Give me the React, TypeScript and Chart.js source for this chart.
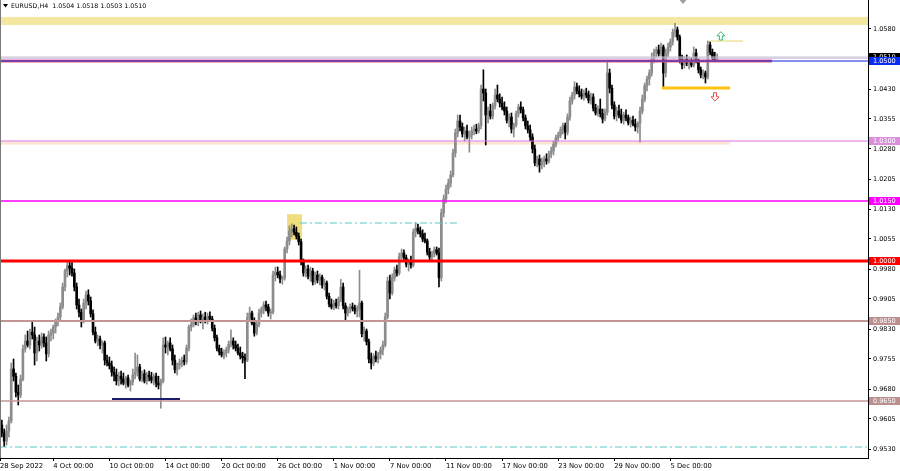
import React, { useEffect, useRef } from "react";
import { Chart, registerables } from "chart.js";

Chart.register(...registerables);

// ---------- DATA (EURUSD H4, 28 Sep 2022 08:00 -> 8 Dec 2022) ----------
// bar index of first candle (index 0 = 28 Sep 00:00, 6 bars a day)
const firstBar = 2;

const opens = [
  0.9590, 0.9570, 0.9550, 0.9575,
  0.9600, 0.9730, 0.9712, 0.9672, 0.9665, 0.9705,
  0.9780, 0.9800, 0.9790, 0.9822, 0.9815, 0.9770,
  0.9800, 0.9790, 0.9810, 0.9795, 0.9768, 0.9815,
  0.9820, 0.9835, 0.9848, 0.9860, 0.9885, 0.9935,
  0.9975, 0.9988, 0.9982, 0.9970, 0.9935, 0.9890,
  0.9872, 0.9850, 0.9895, 0.9915, 0.9900, 0.9868,
  0.9822, 0.9800, 0.9805, 0.9790, 0.9795, 0.9752,
  0.9745, 0.9738, 0.9722, 0.9715, 0.9700, 0.9712,
  0.9705, 0.9695, 0.9708, 0.9690, 0.9698, 0.9715,
  0.9722, 0.9735, 0.9705, 0.9718, 0.9700, 0.9715,
  0.9710, 0.9702, 0.9712, 0.9695, 0.9690, 0.9700,
  0.9790, 0.9785, 0.9795, 0.9780, 0.9752, 0.9728,
  0.9740, 0.9745, 0.9752, 0.9748, 0.9782, 0.9835,
  0.9842, 0.9858, 0.9848, 0.9865, 0.9852, 0.9860,
  0.9850, 0.9862, 0.9855, 0.9832, 0.9808, 0.9782,
  0.9772, 0.9765, 0.9770, 0.9778, 0.9792, 0.9800,
  0.9790, 0.9782, 0.9770, 0.9762, 0.9758, 0.9752,
  0.9858, 0.9870, 0.9845, 0.9820, 0.9842, 0.9870,
  0.9878, 0.9890, 0.9885, 0.9870, 0.9872, 0.9965,
  0.9972, 0.9965, 0.9955, 0.9958, 1.0030, 1.0050,
  1.0075, 1.0080, 1.0072, 1.0062, 1.0048, 0.9998,
  0.9970, 0.9980, 0.9962, 0.9975, 0.9948, 0.9965,
  0.9952, 0.9960, 0.9940, 0.9945, 0.9912, 0.9892,
  0.9885, 0.9895, 0.9888, 0.9905, 0.9935, 0.9888,
  0.9870, 0.9880, 0.9885, 0.9882, 0.9875, 0.9880,
  0.9895, 0.9818, 0.9825, 0.9798, 0.9755, 0.9745,
  0.9762, 0.9755, 0.9768, 0.9778, 0.9790, 0.9860,
  0.9950, 0.9920, 0.9958, 0.9978, 0.9970, 1.0012,
  1.0020, 1.0008, 0.9992, 1.0000, 0.9990, 1.0072,
  1.0082, 1.0075, 1.0068, 1.0055, 1.0050, 1.0022,
  1.0010, 1.0018, 1.0028, 1.0020, 0.9958, 1.0120,
  1.0155, 1.0180, 1.0195, 1.0215, 1.0270, 1.0320,
  1.0350, 1.0335, 1.0318, 1.0325, 1.0310, 1.0315,
  1.0325, 1.0330, 1.0325, 1.0338, 1.0430, 1.0420,
  1.0365, 1.0375, 1.0362, 1.0388, 1.0415, 1.0405,
  1.0395, 1.0385, 1.0375, 1.0352, 1.0360, 1.0330,
  1.0340, 1.0368, 1.0385, 1.0378, 1.0358, 1.0338,
  1.0328, 1.0310, 1.0280, 1.0245, 1.0255, 1.0240,
  1.0248, 1.0255, 1.0250, 1.0268, 1.0275, 1.0292,
  1.0308, 1.0315, 1.0328, 1.0338, 1.0322, 1.0360,
  1.0400, 1.0415, 1.0435, 1.0425, 1.0418, 1.0412,
  1.0420, 1.0415, 1.0402, 1.0410, 1.0382, 1.0370,
  1.0380, 1.0368, 1.0355, 1.0372, 1.0470, 1.0432,
  1.0390, 1.0362, 1.0375, 1.0365, 1.0352, 1.0365,
  1.0358, 1.0345, 1.0352, 1.0342, 1.0335, 1.0345,
  1.0375, 1.0405, 1.0438, 1.0455, 1.0470, 1.0505,
  1.0522, 1.0528, 1.0518, 1.0535, 1.0470, 1.0520,
  1.0535, 1.0548, 1.0572, 1.0578, 1.0560, 1.0505,
  1.0490, 1.0505, 1.0495, 1.0500, 1.0490, 1.0520,
  1.0502, 1.0478, 1.0465, 1.0470, 1.0460, 1.0540,
  1.0522, 1.0508, 1.0504,
];

const highs = [
  0.9602, 0.9580, 0.9590, 0.9610,
  0.9745, 0.9755, 0.9720, 0.9690, 0.9715, 0.9790,
  0.9815, 0.9825, 0.9830, 0.9848, 0.9835, 0.9810,
  0.9815, 0.9820, 0.9818, 0.9810, 0.9825, 0.9830,
  0.9840, 0.9855, 0.9870, 0.9895, 0.9945, 0.9980,
  0.9999, 0.9998, 0.9996, 0.9980, 0.9945, 0.9905,
  0.9880, 0.9905, 0.9925, 0.9928, 0.9910, 0.9878,
  0.9835, 0.9815, 0.9812, 0.9800, 0.9800, 0.9765,
  0.9760, 0.9750, 0.9735, 0.9730, 0.9722, 0.9725,
  0.9720, 0.9712, 0.9715, 0.9702, 0.9730, 0.9770,
  0.9765, 0.9742, 0.9725, 0.9728, 0.9722, 0.9725,
  0.9722, 0.9718, 0.9720, 0.9712, 0.9705, 0.9808,
  0.9810, 0.9800, 0.9808, 0.9790, 0.9765, 0.9745,
  0.9755, 0.9760, 0.9765, 0.9790, 0.9840, 0.9855,
  0.9865, 0.9870, 0.9872, 0.9875, 0.9868, 0.9872,
  0.9870, 0.9873, 0.9862, 0.9840, 0.9815, 0.9790,
  0.9782, 0.9778, 0.9785, 0.9800, 0.9828, 0.9808,
  0.9800, 0.9792, 0.9785, 0.9772, 0.9768, 0.9870,
  0.9885, 0.9875, 0.9858, 0.9850, 0.9880, 0.9885,
  0.9898, 0.9900, 0.9892, 0.9880, 0.9975, 0.9985,
  0.9985, 0.9975, 0.9962, 1.0035, 1.0060, 1.0088,
  1.0093, 1.0090, 1.0085, 1.0070, 1.0055, 1.0005,
  0.9988, 0.9990, 0.9985, 0.9982, 0.9972, 0.9975,
  0.9968, 0.9965, 0.9955, 0.9950, 0.9920, 0.9905,
  0.9902, 0.9905, 0.9910, 0.9954, 0.9945, 0.9895,
  0.9885, 0.9892, 0.9895, 0.9890, 0.9888, 0.9977,
  0.9900, 0.9835, 0.9830, 0.9805, 0.9770, 0.9768,
  0.9775, 0.9772, 0.9785, 0.9800, 0.9870, 0.9960,
  0.9965, 0.9968, 0.9985, 0.9990, 1.0020, 1.0030,
  1.0028, 1.0015, 1.0005, 1.0012, 1.0080, 1.0096,
  1.0092, 1.0085, 1.0078, 1.0070, 1.0055, 1.0032,
  1.0025, 1.0035, 1.0035, 1.0032, 1.0130, 1.0165,
  1.0190, 1.0205, 1.0225, 1.0280, 1.0330, 1.0365,
  1.0365, 1.0345, 1.0335, 1.0340, 1.0325, 1.0335,
  1.0340, 1.0342, 1.0345, 1.0440, 1.0478, 1.0430,
  1.0385, 1.0392, 1.0395, 1.0430, 1.0440, 1.0418,
  1.0410, 1.0398, 1.0385, 1.0368, 1.0370, 1.0345,
  1.0375, 1.0392, 1.0398, 1.0385, 1.0365, 1.0350,
  1.0340, 1.0318, 1.0290, 1.0262, 1.0265, 1.0258,
  1.0262, 1.0268, 1.0275, 1.0285, 1.0300, 1.0315,
  1.0322, 1.0335, 1.0345, 1.0345, 1.0368, 1.0410,
  1.0422, 1.0448, 1.0445, 1.0438, 1.0430, 1.0428,
  1.0432, 1.0425, 1.0420, 1.0418, 1.0392, 1.0388,
  1.0405, 1.0380, 1.0380, 1.0497, 1.0480, 1.0440,
  1.0398, 1.0385, 1.0390, 1.0380, 1.0372, 1.0378,
  1.0365, 1.0360, 1.0362, 1.0355, 1.0348, 1.0385,
  1.0415, 1.0445, 1.0462, 1.0478, 1.0520, 1.0530,
  1.0535, 1.0540, 1.0545, 1.0540, 1.0530, 1.0545,
  1.0555, 1.0580, 1.0594, 1.0585, 1.0565, 1.0515,
  1.0512, 1.0515, 1.0510, 1.0508, 1.0535, 1.0530,
  1.0505, 1.0485, 1.0478, 1.0475, 1.0550, 1.0548,
  1.0530, 1.0522, 1.0518,
];

const lows = [
  0.9560, 0.9536, 0.9540, 0.9560,
  0.9595, 0.9700, 0.9660, 0.9640, 0.9658, 0.9700,
  0.9772, 0.9785, 0.9780, 0.9805, 0.9740, 0.9750,
  0.9775, 0.9782, 0.9785, 0.9750, 0.9760, 0.9800,
  0.9805, 0.9820, 0.9838, 0.9850, 0.9880, 0.9925,
  0.9960, 0.9965, 0.9962, 0.9925, 0.9880, 0.9860,
  0.9835, 0.9845, 0.9880, 0.9890, 0.9860, 0.9815,
  0.9795, 0.9788, 0.9780, 0.9770, 0.9740, 0.9738,
  0.9730, 0.9712, 0.9700, 0.9690, 0.9688, 0.9692,
  0.9690, 0.9682, 0.9685, 0.9675, 0.9690, 0.9705,
  0.9712, 0.9700, 0.9698, 0.9695, 0.9692, 0.9700,
  0.9695, 0.9690, 0.9685, 0.9680, 0.9632, 0.9695,
  0.9770, 0.9765, 0.9775, 0.9740, 0.9720, 0.9715,
  0.9730, 0.9735, 0.9740, 0.9742, 0.9775, 0.9825,
  0.9835, 0.9840, 0.9838, 0.9845, 0.9830, 0.9845,
  0.9842, 0.9850, 0.9825, 0.9800, 0.9775, 0.9765,
  0.9760, 0.9755, 0.9760, 0.9770, 0.9785, 0.9780,
  0.9775, 0.9765, 0.9755, 0.9745, 0.9706, 0.9748,
  0.9850, 0.9840, 0.9812, 0.9815, 0.9835, 0.9860,
  0.9868, 0.9875, 0.9862, 0.9855, 0.9868, 0.9950,
  0.9958, 0.9945, 0.9942, 0.9952, 1.0020, 1.0040,
  1.0060, 1.0065, 1.0055, 1.0040, 0.9990, 0.9962,
  0.9960, 0.9955, 0.9950, 0.9940, 0.9942, 0.9945,
  0.9940, 0.9932, 0.9928, 0.9905, 0.9885, 0.9880,
  0.9878, 0.9882, 0.9880, 0.9898, 0.9880, 0.9852,
  0.9862, 0.9870, 0.9875, 0.9868, 0.9860, 0.9860,
  0.9810, 0.9800, 0.9790, 0.9745, 0.9730, 0.9738,
  0.9748, 0.9745, 0.9755, 0.9765, 0.9785, 0.9855,
  0.9905, 0.9915, 0.9950, 0.9962, 0.9965, 1.0005,
  1.0000, 0.9985, 0.9975, 0.9982, 0.9985, 1.0060,
  1.0068, 1.0060, 1.0048, 1.0045, 1.0015, 1.0000,
  1.0000, 1.0010, 1.0015, 0.9935, 0.9950, 1.0110,
  1.0145, 1.0168, 1.0185, 1.0210, 1.0260, 1.0310,
  1.0325, 1.0310, 1.0300, 1.0305, 1.0272, 1.0305,
  1.0315, 1.0318, 1.0320, 1.0330, 1.0400, 1.0290,
  1.0345, 1.0355, 1.0355, 1.0380, 1.0398, 1.0385,
  1.0378, 1.0365, 1.0345, 1.0335, 1.0320, 1.0310,
  1.0335, 1.0360, 1.0370, 1.0350, 1.0330, 1.0320,
  1.0300, 1.0270, 1.0238, 1.0235, 1.0222, 1.0230,
  1.0235, 1.0242, 1.0245, 1.0258, 1.0265, 1.0285,
  1.0300, 1.0308, 1.0318, 1.0305, 1.0315, 1.0352,
  1.0392, 1.0405, 1.0418, 1.0410, 1.0405, 1.0402,
  1.0408, 1.0395, 1.0392, 1.0375, 1.0365, 1.0362,
  1.0360, 1.0345, 1.0350, 1.0365, 1.0420, 1.0380,
  1.0355, 1.0350, 1.0358, 1.0345, 1.0342, 1.0350,
  1.0340, 1.0335, 1.0338, 1.0325, 1.0320, 1.0297,
  1.0368, 1.0398, 1.0425, 1.0440, 1.0462, 1.0495,
  1.0510, 1.0512, 1.0512, 1.0432, 1.0460, 1.0510,
  1.0525, 1.0540, 1.0560, 1.0552, 1.0495, 1.0480,
  1.0482, 1.0488, 1.0480, 1.0485, 1.0485, 1.0495,
  1.0470, 1.0458, 1.0455, 1.0445, 1.0455, 1.0515,
  1.0500, 1.0498, 1.0503,
];

const closes = [
  0.9570, 0.9550, 0.9575, 0.9600,
  0.9730, 0.9712, 0.9672, 0.9665, 0.9705, 0.9780,
  0.9800, 0.9790, 0.9822, 0.9815, 0.9770, 0.9800,
  0.9790, 0.9810, 0.9795, 0.9768, 0.9815, 0.9820,
  0.9835, 0.9848, 0.9860, 0.9885, 0.9935, 0.9975,
  0.9988, 0.9982, 0.9970, 0.9935, 0.9890, 0.9872,
  0.9850, 0.9895, 0.9915, 0.9900, 0.9868, 0.9822,
  0.9800, 0.9805, 0.9790, 0.9795, 0.9752, 0.9745,
  0.9738, 0.9722, 0.9715, 0.9700, 0.9712, 0.9705,
  0.9695, 0.9708, 0.9690, 0.9698, 0.9715, 0.9722,
  0.9735, 0.9705, 0.9718, 0.9700, 0.9715, 0.9710,
  0.9702, 0.9712, 0.9695, 0.9690, 0.9700, 0.9790,
  0.9785, 0.9795, 0.9780, 0.9752, 0.9728, 0.9740,
  0.9745, 0.9752, 0.9748, 0.9782, 0.9835, 0.9842,
  0.9858, 0.9848, 0.9865, 0.9852, 0.9860, 0.9850,
  0.9862, 0.9855, 0.9832, 0.9808, 0.9782, 0.9772,
  0.9765, 0.9770, 0.9778, 0.9792, 0.9800, 0.9790,
  0.9782, 0.9770, 0.9762, 0.9758, 0.9752, 0.9858,
  0.9870, 0.9845, 0.9820, 0.9842, 0.9870, 0.9878,
  0.9890, 0.9885, 0.9870, 0.9872, 0.9965, 0.9972,
  0.9965, 0.9955, 0.9958, 1.0030, 1.0050, 1.0075,
  1.0080, 1.0072, 1.0062, 1.0048, 0.9998, 0.9970,
  0.9980, 0.9962, 0.9975, 0.9948, 0.9965, 0.9952,
  0.9960, 0.9940, 0.9945, 0.9912, 0.9892, 0.9885,
  0.9895, 0.9888, 0.9905, 0.9935, 0.9888, 0.9870,
  0.9880, 0.9885, 0.9882, 0.9875, 0.9880, 0.9895,
  0.9818, 0.9825, 0.9798, 0.9755, 0.9745, 0.9762,
  0.9755, 0.9768, 0.9778, 0.9790, 0.9860, 0.9950,
  0.9920, 0.9958, 0.9978, 0.9970, 1.0012, 1.0020,
  1.0008, 0.9992, 1.0000, 0.9990, 1.0072, 1.0082,
  1.0075, 1.0068, 1.0055, 1.0050, 1.0022, 1.0010,
  1.0018, 1.0028, 1.0020, 0.9958, 1.0120, 1.0155,
  1.0180, 1.0195, 1.0215, 1.0270, 1.0320, 1.0350,
  1.0335, 1.0318, 1.0325, 1.0310, 1.0315, 1.0325,
  1.0330, 1.0325, 1.0338, 1.0430, 1.0420, 1.0365,
  1.0375, 1.0362, 1.0388, 1.0415, 1.0405, 1.0395,
  1.0385, 1.0375, 1.0352, 1.0360, 1.0330, 1.0340,
  1.0368, 1.0385, 1.0378, 1.0358, 1.0338, 1.0328,
  1.0310, 1.0280, 1.0245, 1.0255, 1.0240, 1.0248,
  1.0255, 1.0250, 1.0268, 1.0275, 1.0292, 1.0308,
  1.0315, 1.0328, 1.0338, 1.0322, 1.0360, 1.0400,
  1.0415, 1.0435, 1.0425, 1.0418, 1.0412, 1.0420,
  1.0415, 1.0402, 1.0410, 1.0382, 1.0370, 1.0380,
  1.0368, 1.0355, 1.0372, 1.0470, 1.0432, 1.0390,
  1.0362, 1.0375, 1.0365, 1.0352, 1.0365, 1.0358,
  1.0345, 1.0352, 1.0342, 1.0335, 1.0345, 1.0375,
  1.0405, 1.0438, 1.0455, 1.0470, 1.0505, 1.0522,
  1.0528, 1.0518, 1.0535, 1.0470, 1.0520, 1.0535,
  1.0548, 1.0572, 1.0578, 1.0560, 1.0505, 1.0490,
  1.0505, 1.0495, 1.0500, 1.0490, 1.0520, 1.0502,
  1.0478, 1.0465, 1.0470, 1.0460, 1.0540, 1.0522,
  1.0508, 1.0504, 1.0510,
];

// x-axis labels (bar index where each label sits)
const xTickBars = [1.2, 24, 48, 72, 96, 120, 144, 168, 192, 216, 240, 264, 288];
const xTickLabels = [
  "28 Sep 2022", "4 Oct 00:00", "10 Oct 00:00", "14 Oct 00:00", "20 Oct 00:00",
  "26 Oct 00:00", "1 Nov 00:00", "7 Nov 00:00", "11 Nov 00:00", "17 Nov 00:00",
  "23 Nov 00:00", "29 Nov 00:00", "5 Dec 00:00",
];
// y-axis tick labels
const yTicks = [
  0.9530, 0.9605, 0.9680, 0.9755, 0.9830, 0.9905, 0.9980, 1.0055,
  1.0130, 1.0205, 1.0280, 1.0355, 1.0430, 1.0580,
];

const titleText = "EURUSD,H4  1.0504 1.0518 1.0503 1.0510";

// price tags on the right axis: price, background
const tagPrices = [1.0510, 1.0500, 1.0300, 1.0150, 1.0000, 0.9850, 0.9650];
const tagColors = ["#000000", "#0a2cf0", "#d98fd9", "#ff00ff", "#ff0000", "#bc8f8f", "#bc8f8f"];

// horizontal lines: price, from bar, to bar (null = edge), colour, width, dash
const lineDefs: [number, number | null, number | null, string, number, number[]][] = [
  [1.0510, null, null, "#c4c4c4", 1, []],
  [1.0507, null, null, "#c8b6ea", 1, []],
  [1.0500, null, 331.5, "#e0607e", 3, []],
  [1.0500, null, null, "#1020e0", 1.2, []],
  [1.0300, null, null, "#e070e0", 1.2, []],
  [1.0150, null, null, "#ff00ff", 1.3, []],
  [1.0000, null, null, "#ff0000", 3, []],
  [0.9850, null, null, "#c49494", 2, []],
  [0.9650, null, null, "#c49494", 1.5, []],
  [0.9535, null, null, "#5cc8c8", 1, [7, 3, 2, 3]],
  [1.0095, 129.5, 197.1, "#5cc8c8", 1, [7, 3, 2, 3]],
  [0.9655, 49.1, 78.2, "#1c1c6c", 2, []],
  [1.04325, 284.4, 313.5, "#ffc20e", 3, []],
  [1.0550, 305, 319.1, "#ece49c", 1.5, []],
];

// filled zones: from bar, to bar, high price, low price, colour
const zoneDefs: [number | null, number | null, number, number, string][] = [
  [null, null, 1.0610, 1.0590, "#f3e7a2"],
  [124, 130.4, 1.0117, 1.0053, "rgba(238,218,112,0.9)"],
  [null, 313.5, 1.0298, 1.0291, "#fbe6d2"],
];

// arrows: bar, top price, bottom price, direction, colour
const arrowDefs: [number, number, number, "up" | "down", string][] = [
  [309.6, 1.05733, 1.05525, "up", "#3cb371"],
  [307.1, 1.04208, 1.0400, "down", "#e8504a"],
];

const shiftMarkBar = 293.4;

const BULL = "#8c8c8c";
const BEAR = "#000000";
const FONT = "DejaVu Sans";

export default function App() {
  const ref = useRef<HTMLCanvasElement>(null);

  useEffect(() => {
    document.body.style.margin = "0";
    const canvas = ref.current;
    if (!canvas) return;

    const idx = closes.map((_, i) => firstBar + i);
    const colors = closes.map((c, i) => (c >= opens[i] ? BULL : BEAR));

    const overlay = {
      id: "mt4Overlay",
      beforeDatasetsDraw(chart: any) {
        const { ctx, chartArea: a } = chart;
        const xs = chart.scales.x;
        const ys = chart.scales.y;
        ctx.save();
        ctx.beginPath();
        ctx.rect(a.left, a.top, a.right - a.left, a.bottom - a.top);
        ctx.clip();
        for (const [fb, tb, hi, lo, col] of zoneDefs) {
          const x0 = fb === null ? a.left : xs.getPixelForValue(fb);
          const x1 = tb === null ? a.right : xs.getPixelForValue(tb);
          const y0 = ys.getPixelForValue(hi);
          const y1 = ys.getPixelForValue(lo);
          ctx.fillStyle = col;
          ctx.fillRect(x0, y0, x1 - x0, y1 - y0);
        }
        ctx.restore();
      },
      afterDatasetsDraw(chart: any) {
        const { ctx, chartArea: a } = chart;
        const xs = chart.scales.x;
        const ys = chart.scales.y;
        ctx.save();
        ctx.beginPath();
        ctx.rect(a.left, a.top, a.right - a.left, a.bottom - a.top);
        ctx.clip();
        for (const [p, fb, tb, col, w, dash] of lineDefs) {
          const x0 = fb === null ? a.left : xs.getPixelForValue(fb);
          const x1 = tb === null ? a.right : xs.getPixelForValue(tb);
          const y = ys.getPixelForValue(p);
          ctx.strokeStyle = col;
          ctx.lineWidth = w;
          ctx.setLineDash(dash);
          ctx.beginPath();
          ctx.moveTo(x0, y);
          ctx.lineTo(x1, y);
          ctx.stroke();
        }
        ctx.setLineDash([]);
        for (const [b, top, bot, dir, col] of arrowDefs) {
          const cx = xs.getPixelForValue(b);
          const yt = ys.getPixelForValue(top);
          const yb = ys.getPixelForValue(bot);
          const hw = 4;
          const sw = 1.5;
          const hh = (yb - yt) * 0.5;
          ctx.strokeStyle = col;
          ctx.lineWidth = 1;
          ctx.beginPath();
          if (dir === "up") {
            ctx.moveTo(cx, yt);
            ctx.lineTo(cx + hw, yt + hh);
            ctx.lineTo(cx + sw, yt + hh);
            ctx.lineTo(cx + sw, yb);
            ctx.lineTo(cx - sw, yb);
            ctx.lineTo(cx - sw, yt + hh);
            ctx.lineTo(cx - hw, yt + hh);
          } else {
            ctx.moveTo(cx, yb);
            ctx.lineTo(cx + hw, yb - hh);
            ctx.lineTo(cx + sw, yb - hh);
            ctx.lineTo(cx + sw, yt);
            ctx.lineTo(cx - sw, yt);
            ctx.lineTo(cx - sw, yb - hh);
            ctx.lineTo(cx - hw, yb - hh);
          }
          ctx.closePath();
          ctx.stroke();
        }
        // chart-shift marker
        const mx = xs.getPixelForValue(shiftMarkBar);
        ctx.fillStyle = "#a0a0a0";
        ctx.beginPath();
        ctx.moveTo(mx - 3.5, a.top);
        ctx.lineTo(mx + 3.5, a.top);
        ctx.lineTo(mx, a.top + 4);
        ctx.closePath();
        ctx.fill();
        ctx.restore();
      },
      afterDraw(chart: any) {
        const { ctx, chartArea: a } = chart;
        const ys = chart.scales.y;
        ctx.save();
        // left frame
        ctx.strokeStyle = "#7a7a7a";
        ctx.lineWidth = 1;
        ctx.beginPath();
        ctx.moveTo(a.left + 0.5, a.top);
        ctx.lineTo(a.left + 0.5, a.bottom);
        ctx.stroke();
        // price tags
        ctx.font = `6.5px "${FONT}"`;
        ctx.textBaseline = "middle";
        ctx.textAlign = "left";
        tagPrices.forEach((p, i) => {
          const y = ys.getPixelForValue(p);
          ctx.fillStyle = tagColors[i];
          ctx.fillRect(a.right + 1, y - 4, chart.width - a.right - 1, 8);
          ctx.fillStyle = "#ffffff";
          ctx.fillText(p.toFixed(4), a.right + 5, y + 0.5);
        });
        // title
        ctx.fillStyle = "#000";
        ctx.beginPath();
        ctx.moveTo(3, 4);
        ctx.lineTo(8, 4);
        ctx.lineTo(5.5, 7.5);
        ctx.closePath();
        ctx.fill();
        ctx.font = `6.3px "${FONT}"`;
        ctx.fillText(titleText, 11, 6);
        ctx.restore();
      },
    };

    const chart = new Chart(canvas, {
      type: "bar",
      data: {
        datasets: [
          {
            label: "wick",
            data: idx.map((x, i) => ({ x, y: [lows[i], highs[i]] })) as any,
            backgroundColor: colors,
            borderWidth: 0,
            barThickness: 1,
            grouped: false,
            order: 2,
          } as any,
          {
            label: "body",
            data: idx.map((x, i) => ({ x, y: [opens[i], closes[i]] })) as any,
            backgroundColor: colors,
            borderWidth: 0,
            barThickness: 2,
            minBarLength: 1,
            grouped: false,
            order: 1,
          } as any,
        ],
      },
      options: {
        responsive: false,
        animation: false,
        devicePixelRatio: 1,
        layout: { padding: 0 },
        plugins: { legend: { display: false }, tooltip: { enabled: false }, title: { display: false } },
        scales: {
          x: {
            type: "linear",
            min: 1.2,
            max: 1.2 + 868 / 2.3375,
            offset: false,
            afterBuildTicks: (s: any) => {
              s.ticks = xTickBars.map((v) => ({ value: v }));
            },
            afterFit: (s: any) => {
              s.height = 13;
              s.paddingLeft = 0;
              s.paddingRight = 0;
            },
            ticks: {
              autoSkip: false,
              maxRotation: 0,
              minRotation: 0,
              align: "start",
              padding: 1,
              color: "#000",
              font: { family: FONT, size: 6.8 },
              callback: (_v: any, i: number) => xTickLabels[i],
            },
            grid: { drawOnChartArea: false, drawTicks: true, tickLength: 3, color: "#000", offset: false },
            border: { display: true, color: "#000" },
          } as any,
          y: {
            type: "linear",
            position: "right",
            min: 0.95075,
            max: 1.06525,
            afterBuildTicks: (s: any) => {
              s.ticks = yTicks.map((v) => ({ value: v }));
            },
            afterFit: (s: any) => {
              s.width = 32;
              s.paddingTop = 0;
              s.paddingBottom = 0;
            },
            ticks: {
              autoSkip: false,
              padding: 2,
              color: "#000",
              font: { family: FONT, size: 6.5 },
              callback: (v: any) => Number(v).toFixed(4),
            },
            grid: { drawOnChartArea: false, drawTicks: true, tickLength: 3, color: "#000" },
            border: { display: true, color: "#000" },
          } as any,
        },
      },
      plugins: [overlay],
    });

    return () => chart.destroy();
  }, []);

  return (
    <div style={{ position: "absolute", left: 0, top: 0, width: 900, height: 471, background: "#fff" }}>
      <canvas ref={ref} width={900} height={471} style={{ display: "block" }} />
    </div>
  );
}
